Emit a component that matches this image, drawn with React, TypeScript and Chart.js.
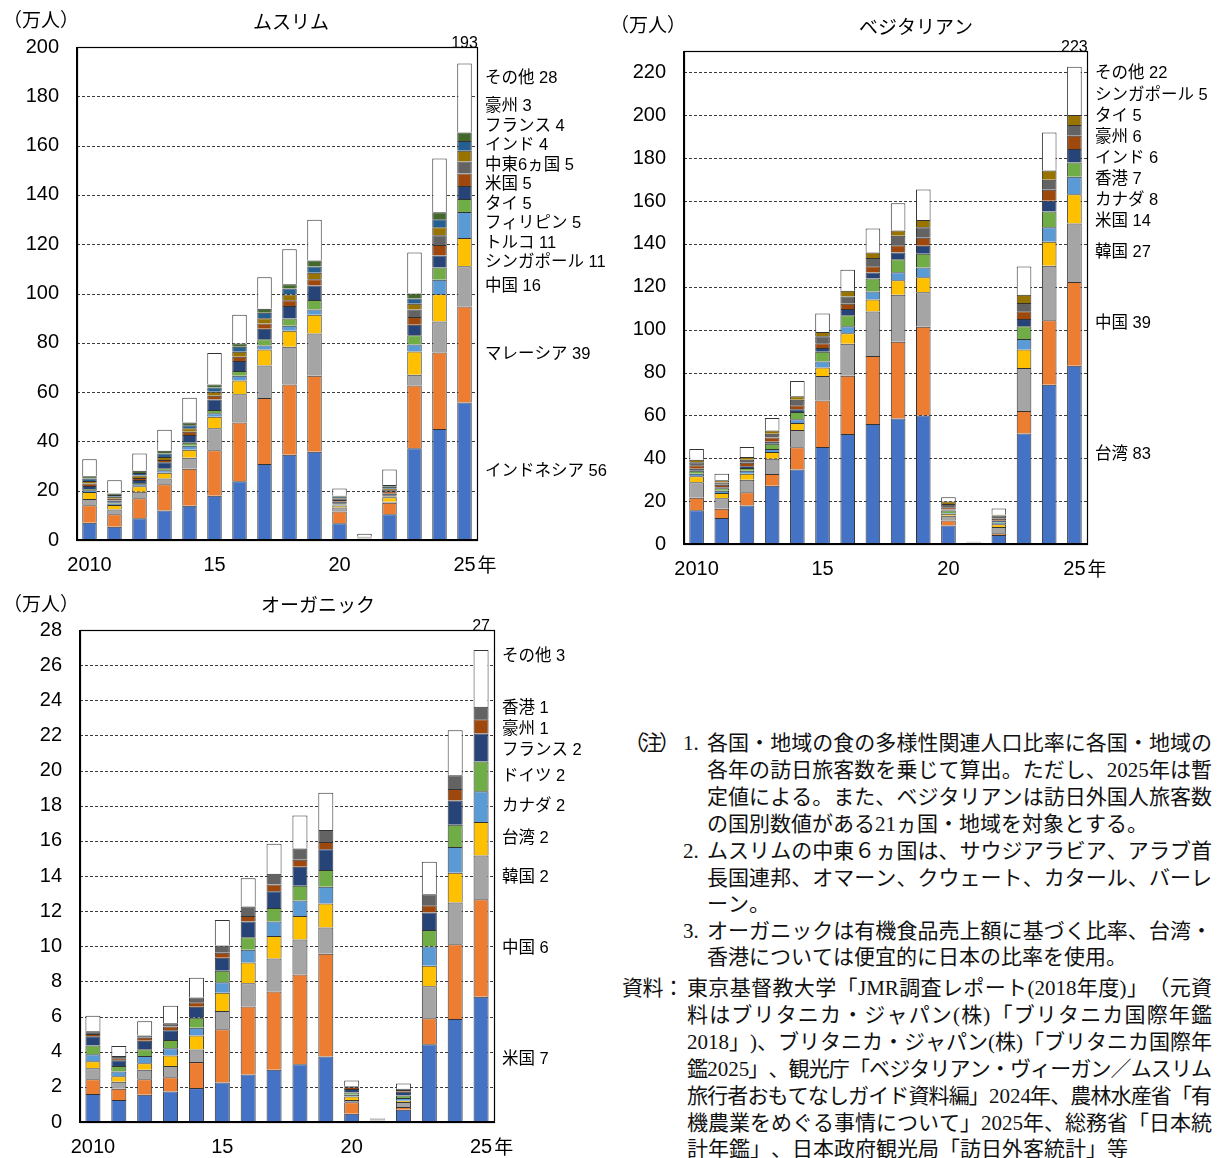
import React, { useEffect, useRef, useMemo } from 'react';
import { Chart, registerables } from 'chart.js';

Chart.register(...registerables);

// ---------------- data ----------------
const categories = ['2010', '2011', '2012', '2013', '2014', '2015', '2016', '2017', '2018', '2019', '2020', '2021', '2022', '2023', '2024', '2025'];
const xTickLabels = ['2010', '', '', '', '', '15', '', '', '', '', '20', '', '', '', '', '25'];

// ムスリム (万人), bottom to top
const muslimNames = ['インドネシア', 'マレーシア', '中国', 'シンガポール', 'トルコ', 'フィリピン', 'タイ', '米国', '中東6ヵ国', 'インド', 'フランス', '豪州', 'その他'];
const muslimIndonesia = [7.0, 5.4, 8.8, 12.0, 13.9, 18.0, 23.8, 30.8, 34.6, 35.8, 6.8, 0.25, 10.4, 37.2, 45.0, 55.8];
const muslimMalaysia = [7.1, 5.0, 8.1, 10.6, 15.0, 18.4, 23.9, 26.8, 28.5, 30.8, 4.8, 0.1, 4.7, 25.5, 31.1, 38.9];
const muslimChina = [2.5, 2.0, 2.7, 2.3, 4.5, 8.9, 11.4, 13.2, 15.3, 17.2, 1.6, 0.15, 0.4, 4.3, 12.5, 16.4];
const muslimSingapore = [2.9, 1.8, 2.2, 2.4, 3.2, 4.7, 5.6, 6.5, 6.5, 7.6, 0.8, 0.05, 1.8, 9.5, 11.1, 11.4];
const muslimTurkey = [0.7, 0.5, 0.8, 1.0, 1.6, 1.4, 1.9, 1.6, 2.0, 2.1, 0.4, 0.1, 0.3, 2.8, 5.9, 10.6];
const muslimPhilippines = [0.5, 0.4, 0.5, 0.8, 1.3, 1.3, 2.0, 2.5, 3.0, 3.9, 0.5, 0.05, 0.6, 3.8, 4.9, 5.2];
const muslimThai = [1.2, 0.9, 1.2, 2.4, 3.1, 4.3, 4.0, 4.3, 5.0, 5.8, 0.6, 0.05, 0.6, 4.2, 4.9, 5.3];
const muslimUS = [1.0, 0.7, 0.9, 1.0, 1.3, 1.5, 1.7, 2.1, 2.4, 2.6, 0.7, 0.25, 1.0, 3.2, 4.3, 5.1];
const muslimMiddleEast = [0, 0, 0, 0, 0, 0, 0, 0, 0, 0, 0.4, 0.1, 0.5, 3.0, 3.9, 4.8];
const muslimIndia = [1.0, 0.8, 1.0, 1.2, 1.4, 1.6, 2.1, 2.2, 2.3, 2.6, 0.3, 0.1, 0.5, 2.3, 3.3, 4.4];
const muslimFrance = [1.1, 0.8, 1.0, 1.4, 1.3, 1.8, 2.0, 2.2, 2.4, 2.6, 0.6, 0.1, 0.8, 2.2, 3.2, 4.0];
const muslimAustralia = [0.9, 0.6, 0.9, 1.1, 1.1, 1.2, 1.3, 1.6, 1.8, 2.4, 0.5, 0.05, 0.7, 2.0, 2.9, 3.4];
const muslimOthers = [6.9, 5.3, 7.0, 8.5, 10.0, 12.8, 11.7, 12.8, 14.2, 16.5, 2.9, 1.2, 6.3, 16.6, 21.8, 28.0];
const muslimTicks = [0, 20, 40, 60, 80, 100, 120, 140, 160, 180, 200];

// ベジタリアン (万人)
const vegNames = ['台湾', '中国', '韓国', '米国', 'カナダ', '香港', 'インド', '豪州', 'タイ', 'シンガポール', 'その他'];
const vegTaiwan = [15.7, 12.1, 18.0, 27.2, 34.7, 45.3, 51.3, 56.0, 58.5, 60.0, 8.6, 0.08, 4.2, 51.6, 74.3, 83.2];
const vegChina = [5.9, 4.4, 6.1, 5.5, 10.4, 21.6, 27.2, 31.7, 35.9, 41.4, 2.4, 0.1, 0.8, 10.5, 30.1, 39.0];
const vegKorea = [7.2, 4.8, 5.9, 7.1, 8.1, 11.5, 14.9, 20.8, 21.9, 16.1, 2.2, 0.05, 2.9, 20.0, 25.4, 27.3];
const vegUS = [2.8, 2.5, 2.8, 3.1, 3.3, 4.0, 4.9, 5.6, 6.7, 7.0, 0.8, 0.2, 1.3, 8.6, 11.2, 13.7];
const vegCanada = [1.2, 1.1, 1.4, 1.4, 1.7, 2.7, 3.3, 3.7, 3.8, 4.5, 0.4, 0.05, 0.7, 4.9, 6.8, 8.1];
const vegHongKong = [1.4, 1.1, 1.3, 2.5, 3.4, 4.6, 5.1, 6.1, 6.0, 6.4, 1.2, 0.03, 0.4, 6.0, 7.3, 6.7];
const vegIndia = [0.9, 0.5, 0.8, 0.9, 1.3, 1.7, 2.9, 2.8, 3.2, 3.7, 0.5, 0.1, 0.6, 3.4, 5.0, 6.3];
const vegAustralia = [1.6, 1.2, 1.6, 2.0, 1.8, 2.3, 2.5, 2.9, 3.4, 3.8, 1.0, 0.05, 0.9, 3.6, 5.2, 6.2];
const vegThai = [1.4, 1.0, 1.4, 1.7, 2.6, 3.2, 3.4, 3.8, 4.4, 4.9, 1.6, 0.05, 1.5, 3.8, 4.6, 5.0];
const vegSingapore = [1.2, 1.0, 1.3, 1.6, 1.6, 2.0, 2.6, 2.6, 2.5, 3.3, 1.1, 0.05, 0.4, 3.9, 4.4, 4.7];
const vegOthers = [5.0, 3.1, 4.7, 5.8, 7.1, 8.6, 9.8, 11.2, 12.7, 14.3, 2.0, 0.3, 2.9, 13.2, 17.7, 22.4];
const vegTicks = [0, 20, 40, 60, 80, 100, 120, 140, 160, 180, 200, 220];

// オーガニック (万人)
const orgNames = ['米国', '中国', '韓国', '台湾', 'カナダ', 'ドイツ', 'フランス', '豪州', '香港', 'その他'];
const orgUS = [1.59, 1.25, 1.55, 1.74, 1.93, 2.25, 2.71, 2.97, 3.29, 3.73, 0.47, 0.04, 0.70, 4.43, 5.86, 7.13];
const orgChina = [0.85, 0.64, 0.89, 0.80, 1.48, 3.03, 3.87, 4.46, 5.11, 5.84, 0.65, 0.03, 0.15, 1.47, 4.26, 5.54];
const orgKorea = [0.62, 0.40, 0.53, 0.64, 0.71, 1.04, 1.31, 1.88, 1.99, 1.50, 0.13, 0.01, 0.29, 1.82, 2.37, 2.49];
const orgTaiwan = [0.40, 0.32, 0.38, 0.60, 0.80, 1.04, 1.19, 1.28, 1.34, 1.36, 0.20, 0.005, 0.07, 1.17, 1.70, 1.91];
const orgCanada = [0.40, 0.27, 0.40, 0.42, 0.45, 0.59, 0.72, 0.82, 0.87, 0.96, 0.10, 0.02, 0.15, 1.10, 1.46, 1.76];
const orgGermany = [0.49, 0.30, 0.39, 0.47, 0.57, 0.66, 0.72, 0.77, 0.85, 0.95, 0.13, 0.02, 0.15, 0.93, 1.27, 1.69];
const orgFrance = [0.53, 0.34, 0.49, 0.55, 0.62, 0.74, 0.89, 0.95, 1.08, 1.18, 0.20, 0.03, 0.21, 1.00, 1.38, 1.59];
const orgAustralia = [0.13, 0.11, 0.16, 0.21, 0.25, 0.28, 0.32, 0.38, 0.40, 0.42, 0.10, 0.02, 0.10, 0.41, 0.65, 0.81];
const orgHongKong = [0.15, 0.12, 0.13, 0.19, 0.27, 0.42, 0.53, 0.62, 0.63, 0.68, 0.06, 0.005, 0.07, 0.63, 0.79, 0.71];
const orgOthers = [0.89, 0.58, 0.81, 1.00, 1.13, 1.45, 1.61, 1.71, 1.89, 2.12, 0.32, 0.03, 0.30, 1.85, 2.56, 3.23];
const orgTicks = [0, 2, 4, 6, 8, 10, 12, 14, 16, 18, 20, 22, 24, 26, 28];

// ---------------- styles ----------------
const PALETTE = ['#4472C4', '#ED7D31', '#A5A5A5', '#FFC000', '#5B9BD5', '#70AD47', '#264478', '#9E480E', '#636363', '#997300', '#255E91', '#43682B'];
const SANS = '"Liberation Sans", "Noto Sans CJK JP", Arial, sans-serif';
const JP = '"Noto Sans CJK JP", "Liberation Sans", sans-serif';

const panels = [
  {
    key: 'muslim', left: 0, top: 0, width: 610, height: 590,
    area: { left: 77, top: 47, right: 477, bottom: 540 },
    names: muslimNames,
    series: [muslimIndonesia, muslimMalaysia, muslimChina, muslimSingapore, muslimTurkey, muslimPhilippines, muslimThai, muslimUS, muslimMiddleEast, muslimIndia, muslimFrance, muslimAustralia, muslimOthers],
    ticks: muslimTicks, yMax: 200,
    title: 'ムスリム', titleX: 291, titleY: 22, unitX: 41, unitY: 20, gap: 19.5, othersOffset: 15,
  },
  {
    key: 'veg', left: 610, top: 0, width: 609, height: 590,
    area: { left: 74, top: 51, right: 477, bottom: 544 },
    names: vegNames,
    series: [vegTaiwan, vegChina, vegKorea, vegUS, vegCanada, vegHongKong, vegIndia, vegAustralia, vegThai, vegSingapore, vegOthers],
    ticks: vegTicks, yMax: 230,
    title: 'ベジタリアン', titleX: 306, titleY: 27, unitX: 38, unitY: 25, gap: 21, othersOffset: 7,
  },
  {
    key: 'org', left: 0, top: 590, width: 610, height: 568,
    area: { left: 80, top: 40, right: 494, bottom: 532 },
    names: orgNames,
    series: [orgUS, orgChina, orgKorea, orgTaiwan, orgCanada, orgGermany, orgFrance, orgAustralia, orgHongKong, orgOthers],
    ticks: orgTicks, yMax: 28,
    title: 'オーガニック', titleX: 318, titleY: 15, unitX: 41, unitY: 14, gap: 21, othersOffset: 6,
  },
];

const panelPlugin: any = {
  id: 'panel',
  beforeDatasetsDraw(chart: any, _a: any, o: any) {
    const { ctx, chartArea: a } = chart;
    const y = chart.scales.y;
    ctx.save();
    ctx.strokeStyle = '#3a3a3a';
    ctx.lineWidth = 1;
    ctx.setLineDash([3, 2]);
    for (const v of o.ticks) {
      if (v <= y.min || v >= y.max) continue;
      const py = Math.round(y.getPixelForValue(v)) + 0.5;
      ctx.beginPath();
      ctx.moveTo(a.left, py);
      ctx.lineTo(a.right, py);
      ctx.stroke();
    }
    ctx.restore();
  },
  afterDatasetsDraw(chart: any) {
    const { ctx, chartArea: a } = chart;
    ctx.save();
    ctx.strokeStyle = '#000';
    ctx.lineWidth = 1.2;
    ctx.strokeRect(Math.round(a.left) + 0.5, Math.round(a.top) + 0.5, Math.round(a.right - a.left), Math.round(a.bottom - a.top));
    ctx.lineWidth = 2;
    ctx.beginPath();
    ctx.moveTo(a.left, a.top);
    ctx.lineTo(a.left, a.bottom);
    ctx.lineTo(a.right, a.bottom);
    ctx.stroke();
    ctx.restore();
  },
  afterDraw(chart: any, _a: any, o: any) {
    const { ctx, chartArea: a } = chart;
    const xs = chart.scales.x;
    const ds = chart.data.datasets;
    const last = chart.data.labels.length - 1;
    ctx.save();
    ctx.fillStyle = '#000';
    // unit + title
    ctx.textBaseline = 'middle';
    ctx.textAlign = 'center';
    ctx.font = `19px ${JP}`;
    ctx.fillText('（万人）', o.unitX, o.unitY);
    ctx.font = `19px ${JP}`;
    ctx.fillText(o.title, o.titleX, o.titleY);
    // total above last bar
    const total = ds.reduce((s: number, d: any) => s + d.data[last], 0);
    const lastX = xs.getPixelForValue(last);
    ctx.font = `16px "Liberation Sans Narrow", ${SANS}`;
    ctx.textBaseline = 'alphabetic';
    ctx.fillText(String(Math.round(total)), lastX, a.top + 1);
    // 年 after last tick label
    ctx.font = `20px ${SANS}`;
    const w25 = ctx.measureText('25').width;
    ctx.font = `19px ${JP}`;
    ctx.textAlign = 'left';
    ctx.textBaseline = 'middle';
    ctx.fillText('年', lastX + w25 / 2 + 2, a.bottom + 25);
    // right-side labels
    const items: any[] = [];
    for (let i = 0; i < ds.length; i++) {
      const el: any = chart.getDatasetMeta(i).data[last];
      const val = ds[i].data[last];
      const ideal = i === ds.length - 1 ? el.y + o.othersOffset : (el.y + el.base) / 2;
      items.push({ text: `${ds[i].label} ${Math.round(val)}`, y: ideal });
    }
    for (let it = 0; it < 400; it++) {
      for (let i = 0; i < items.length - 1; i++) {
        const lo = items[i], hi = items[i + 1];
        const d = lo.y - hi.y;
        if (d < o.gap) {
          const s = (o.gap - d) / 2;
          lo.y += s;
          hi.y -= s;
        }
      }
    }
    ctx.font = `16.5px ${SANS}`;
    for (const itm of items) ctx.fillText(itm.text, a.right + 8, itm.y);
    ctx.restore();
  },
};

function Panel({ cfg }: any) {
  const ref = useRef<HTMLCanvasElement>(null);
  useEffect(() => {
    const { area, width, height } = cfg;
    const chart = new Chart(ref.current as HTMLCanvasElement, {
      type: 'bar',
      data: {
        labels: xTickLabels,
        datasets: cfg.series.map((d: number[], i: number) => ({
          label: cfg.names[i],
          data: d,
          backgroundColor: i === cfg.series.length - 1 ? '#FFFFFF' : PALETTE[i],
          borderColor: '#333333',
          borderWidth: 1,
          barPercentage: 0.58,
          categoryPercentage: 1,
        })),
      },
      options: {
        responsive: false,
        maintainAspectRatio: false,
        animation: false,
        devicePixelRatio: 1,
        layout: { padding: { left: 0, top: area.top, right: width - area.right, bottom: 0 } },
        plugins: {
          legend: { display: false },
          tooltip: { enabled: false },
          title: { display: false },
          panel: { ticks: cfg.ticks, title: cfg.title, titleX: cfg.titleX, titleY: cfg.titleY, unitX: cfg.unitX, unitY: cfg.unitY, gap: cfg.gap, othersOffset: cfg.othersOffset },
        } as any,
        scales: {
          x: {
            stacked: true,
            grid: { display: false, drawTicks: false },
            border: { display: false },
            ticks: { autoSkip: false, maxRotation: 0, minRotation: 0, padding: 13, color: '#000', font: { size: 20, family: SANS } },
            afterFit: (s: any) => { s.height = height - area.bottom; },
          },
          y: {
            stacked: true,
            min: 0,
            max: cfg.yMax,
            grid: { display: false, drawTicks: false },
            border: { display: false },
            ticks: { padding: 18, color: '#000', font: { size: 20, family: SANS }, maxTicksLimit: 100 },
            afterBuildTicks: (s: any) => { s.ticks = cfg.ticks.map((v: number) => ({ value: v })); },
            afterFit: (s: any) => { s.width = area.left; },
          },
        } as any,
      },
      plugins: [panelPlugin],
    });
    return () => chart.destroy();
  }, [cfg]);
  return (
    <canvas
      ref={ref}
      width={cfg.width}
      height={cfg.height}
      style={{ position: 'absolute', left: cfg.left, top: cfg.top, width: cfg.width, height: cfg.height }}
    />
  );
}

// ---------------- notes ----------------
const NOTE_FONT_FAMILY = '"Liberation Serif", "Noto Sans CJK JP", serif';
const NOTE_SIZE = 21;
const noteLines = [
  { l: 624, r: 680, y: 743, t: '（注）', j: true },
  { l: 683, r: 0, y: 743, t: '1.', j: false },
  { l: 707, r: 1212, y: 743, t: '各国・地域の食の多様性関連人口比率に各国・地域の', j: true },
  { l: 707, r: 1212, y: 770, t: '各年の訪日旅客数を乗じて算出。ただし、2025年は暫', j: true },
  { l: 707, r: 1212, y: 797, t: '定値による。また、ベジタリアンは訪日外国人旅客数', j: true },
  { l: 707, r: 0, y: 824, t: 'の国別数値がある21ヵ国・地域を対象とする。', j: false },
  { l: 683, r: 0, y: 851, t: '2.', j: false },
  { l: 707, r: 1212, y: 851, t: 'ムスリムの中東６ヵ国は、サウジアラビア、アラブ首', j: true },
  { l: 707, r: 1212, y: 878, t: '長国連邦、オマーン、クウェート、カタール、バーレ', j: true },
  { l: 707, r: 0, y: 904, t: 'ーン。', j: false },
  { l: 683, r: 0, y: 931, t: '3.', j: false },
  { l: 707, r: 1212, y: 931, t: 'オーガニックは有機食品売上額に基づく比率、台湾・', j: true },
  { l: 707, r: 0, y: 957, t: '香港については便宜的に日本の比率を使用。', j: false },
  { l: 622, r: 684, y: 988, t: '資料：', j: true },
  { l: 687, r: 1212, y: 988, t: '東京基督教大学「JMR調査レポート(2018年度)」（元資', j: true },
  { l: 687, r: 1212, y: 1015, t: '料はブリタニカ・ジャパン(株)「ブリタニカ国際年鑑', j: true },
  { l: 687, r: 1212, y: 1042, t: '2018」)、ブリタニカ・ジャパン(株)「ブリタニカ国際年', j: true },
  { l: 687, r: 1212, y: 1069, t: '鑑2025」、観光庁「ベジタリアン・ヴィーガン／ムスリム', j: true },
  { l: 687, r: 1212, y: 1096, t: '旅行者おもてなしガイド資料編」2024年、農林水産省「有', j: true },
  { l: 687, r: 1212, y: 1123, t: '機農業をめぐる事情について」2025年、総務省「日本統', j: true },
  { l: 687, r: 0, y: 1149, t: '計年鑑」、日本政府観光局「訪日外客統計」等', j: false },
];

function Notes() {
  const placed = useMemo(() => {
    const c = document.createElement('canvas').getContext('2d') as CanvasRenderingContext2D;
    c.font = `${NOTE_SIZE}px ${NOTE_FONT_FAMILY}`;
    const out: any[] = [];
    noteLines.forEach((ln, li) => {
      const toks = Array.from(ln.t.matchAll(/[!-~]+|[\s\S]/gu)).map((m) => m[0]);
      const ws = toks.map((t) => c.measureText(t).width);
      const total = ws.reduce((s, w) => s + w, 0);
      const gap = ln.j && toks.length > 1 ? (ln.r - ln.l - total) / (toks.length - 1) : 0;
      let x = ln.l;
      toks.forEach((t, i) => {
        out.push({ k: `${li}-${i}`, t, x, y: ln.y });
        x += ws[i] + gap;
      });
    });
    return out;
  }, []);
  return (
    <>
      {placed.map((p) => (
        <span
          key={p.k}
          style={{
            position: 'absolute',
            left: p.x,
            top: p.y - 13.5,
            fontFamily: NOTE_FONT_FAMILY,
            fontSize: NOTE_SIZE,
            lineHeight: '27px',
            whiteSpace: 'pre',
            color: '#111',
          }}
        >
          {p.t}
        </span>
      ))}
    </>
  );
}

export default function App() {
  return (
    <div style={{ position: 'absolute', left: 0, top: 0, width: 1219, height: 1158, background: '#fff', overflow: 'hidden' }}>
      {panels.map((p) => (
        <Panel key={p.key} cfg={p} />
      ))}
      <Notes />
    </div>
  );
}
